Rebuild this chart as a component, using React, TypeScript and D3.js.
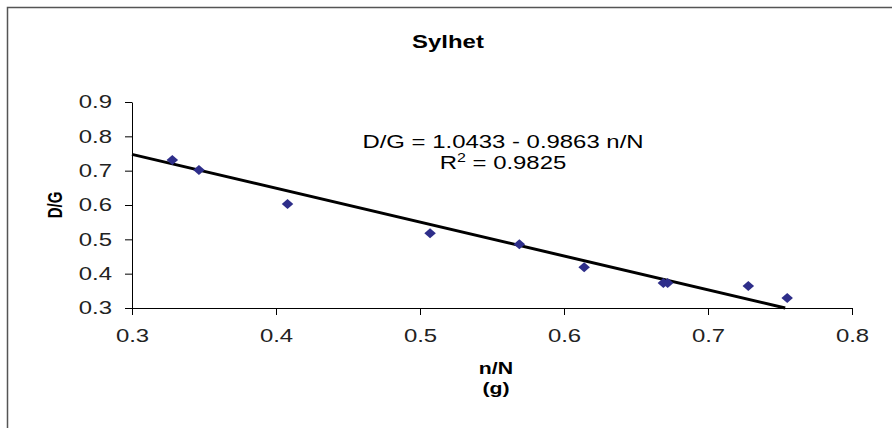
import React, { useEffect, useRef } from 'react'
import * as d3 from 'd3'

const nN = [0.328, 0.3465, 0.408, 0.507, 0.569, 0.614, 0.669, 0.672, 0.728, 0.755]
const dG = [0.731, 0.702, 0.603, 0.518, 0.486, 0.419, 0.373, 0.373, 0.364, 0.329]
const xTicks = [0.3, 0.4, 0.5, 0.6, 0.7, 0.8]
const yTicks = [0.3, 0.4, 0.5, 0.6, 0.7, 0.8, 0.9]
const intercept = 1.0433
const slope = -0.9863

// the original picture is stretched sideways, so text gets the same stretch
const SX = 1.33

export default function App() {
  const ref = useRef<SVGSVGElement>(null)

  useEffect(() => {
    const svg = d3.select(ref.current)
    svg.selectAll('*').remove()
    const font = 'Arial, "Liberation Sans", sans-serif'

    const x = d3.scaleLinear().domain([0.3, 0.8]).range([132, 852])
    const y = d3.scaleLinear().domain([0.3, 0.9]).range([308, 102])

    const label = (tx: number, ty: number, size: number, bold: boolean, rot = false) =>
      svg.append('text')
        .attr('transform', `translate(${tx},${ty}) scale(${SX},1)${rot ? ' rotate(-90)' : ''}`)
        .attr('text-anchor', 'middle')
        .attr('font-family', font)
        .attr('font-weight', bold ? 'bold' : 'normal')
        .attr('font-size', size)

    // outer frame (left and top only, like the cropped original)
    svg.append('path')
      .attr('d', 'M7.5,428 V7.5 H892')
      .attr('fill', 'none')
      .attr('stroke', '#555')
      .attr('stroke-width', 1.5)

    label(448, 48, 18, true).text('Sylhet')

    // x axis
    const xa = svg.append('g')
      .attr('transform', 'translate(0,308)')
      .call(d3.axisBottom(x).tickValues(xTicks).tickSize(7).tickSizeOuter(0).tickFormat(d3.format('.1f')))
    xa.selectAll('text')
      .attr('y', 0).attr('dy', null)
      .attr('transform', `translate(0,34) scale(${SX},1)`)
    // y axis
    const ya = svg.append('g')
      .attr('transform', 'translate(132,0)')
      .call(d3.axisLeft(y).tickValues(yTicks).tickSize(7).tickSizeOuter(0).tickFormat(d3.format('.1f')))
    ya.selectAll('text')
      .attr('x', 0)
      .attr('transform', `translate(-20,0) scale(${SX},1)`)
    for (const a of [xa, ya]) {
      a.select('.domain').attr('stroke', '#000')
      a.selectAll('line').attr('stroke', '#000')
      a.selectAll('text')
        .attr('font-family', font)
        .attr('font-size', 18)
        .attr('fill', '#222')
    }

    // trend line, clipped at the x axis
    const xEnd = (0.3 - intercept) / slope
    svg.append('line')
      .attr('x1', x(0.3)).attr('y1', y(intercept + slope * 0.3))
      .attr('x2', x(xEnd)).attr('y2', y(0.3))
      .attr('stroke', '#000')
      .attr('stroke-width', 3)

    const diamond = d3.symbol().type(d3.symbolDiamond2).size(64)
    svg.selectAll('path.pt')
      .data(nN)
      .enter().append('path')
      .attr('class', 'pt')
      .attr('d', diamond)
      .attr('transform', (d, i) => `translate(${x(d)},${y(dG[i])}) scale(1.15,1)`)
      .attr('fill', '#2e2e8a')

    label(503, 148, 18, false).text('D/G = 1.0433 - 0.9863 n/N')
    const r2 = label(503, 169, 18, false)
    r2.append('tspan').text('R')
    r2.append('tspan').attr('font-size', 12).attr('dy', -7).text('2')
    r2.append('tspan').attr('dy', 7).text(' = 0.9825')

    label(62, 205, 15, true, true).text('D/G')
    label(496, 374, 16, true).text('n/N')
    label(496, 394, 16, true).text('(g)')
  }, [])

  return (
    <svg ref={ref} width={892} height={428}
      style={{ position: 'absolute', left: 0, top: 0, background: '#fff' }} />
  )
}
